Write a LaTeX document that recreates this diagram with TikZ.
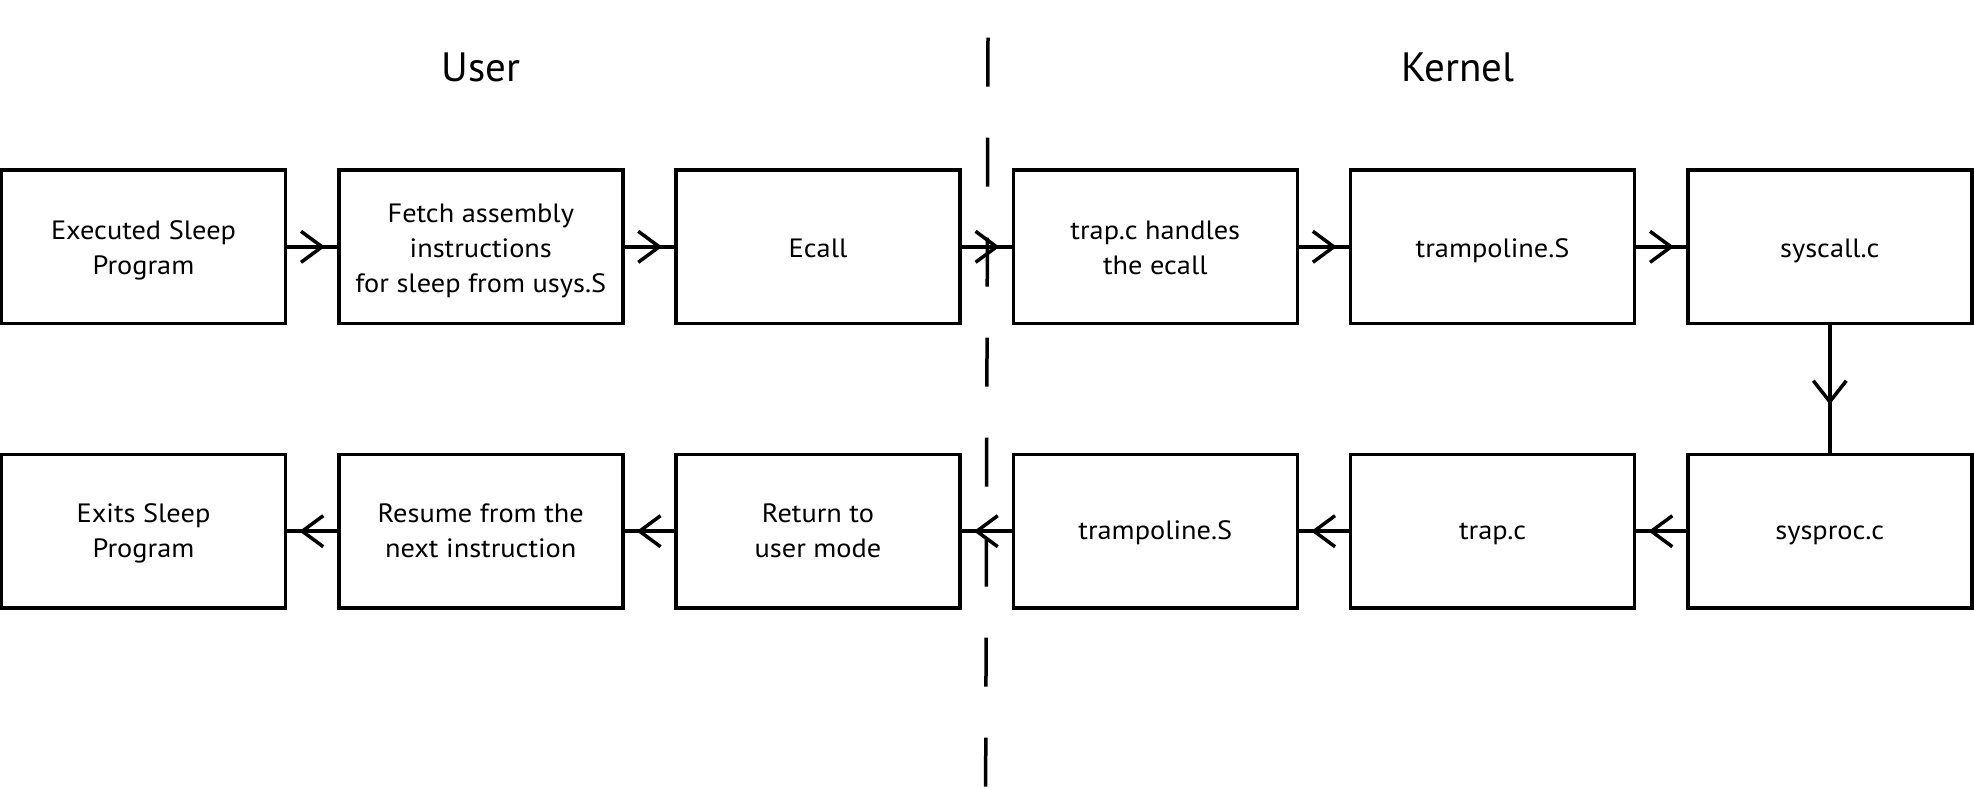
\documentclass[tikz,border=0pt]{standalone}
\usepackage{fontspec}
\setmainfont{PT Sans}
\newfontfamily\boxfont[FakeStretch=1.07]{PT Sans}
\usetikzlibrary{decorations.markings}
\newcommand\bs{\rule[-6pt]{0pt}{32.5pt}}
\newcommand\bt{\rule[-6pt]{0pt}{29pt}}
\begin{document}
\begin{tikzpicture}[x=1pt,y=-1pt,
  stepbox/.style={draw,line width=3.5pt,minimum width=284pt,minimum height=153.5pt,inner sep=0pt,align=center,font=\boxfont\fontsize{26.5}{35}\selectfont},
  title/.style={font=\fontsize{41}{48}\selectfont,inner sep=0pt},
  flow/.style={line width=3.5pt,postaction={decorate},decoration={markings,
     mark=at position -15pt with {\draw[line width=3.5pt] (-21pt,15.5pt)--(0,0)--(-21pt,-15.5pt);}}},
  flowv/.style={line width=3.5pt,postaction={decorate},decoration={markings,
     mark=at position -51pt with {\draw[line width=3.5pt] (-21pt,16.5pt)--(0,0)--(-21pt,-16.5pt);}}}
]
\useasboundingbox (0,0) rectangle (1974,788);
\draw[line width=3.5pt,dash pattern=on 49pt off 51pt] (988,37.7) -- (985.6,800);
\node[title,anchor=base] (user) at (481,81.7) {User};
\node[title,anchor=base] (kernel) at (1458,81.7) {Kernel};
% top row
\node[stepbox] (a1) at (143.5,246.8) {\bs Executed Sleep\\\bs Program};
\node[stepbox] (a2) at (480.8,246.8) {\bs Fetch assembly\\\bs instructions\\\bs for sleep from usys.S};
\node[stepbox] (a3) at (818,246.8) {\bs Ecall};
\node[stepbox] (a4) at (1155.3,246.8) {\bs trap.c handles\\\bs the ecall};
\node[stepbox] (a5) at (1492.6,246.8) {\bs trampoline.S};
\node[stepbox] (a6) at (1829.8,246.8) {\bs syscall.c};
% bottom row
\node[stepbox] (b1) at (143.5,531.2) {\bt Exits Sleep\\\bt Program};
\node[stepbox] (b2) at (480.8,531.2) {\bt Resume from the\\\bt next instruction};
\node[stepbox] (b3) at (818,531.2) {\bt Return to\\\bt user mode};
\node[stepbox] (b4) at (1155.3,531.2) {\bt trampoline.S};
\node[stepbox] (b5) at (1492.6,531.2) {\bt trap.c};
\node[stepbox] (b6) at (1829.8,531.2) {\bt sysproc.c};
% connectors
\draw[flow] (a1.east) -- (a2.west);
\draw[flow] (a2.east) -- (a3.west);
\draw[flow] (a3.east) -- (a4.west);
\draw[flow] (a4.east) -- (a5.west);
\draw[flow] (a5.east) -- (a6.west);
\draw[flowv] (a6.south) -- (b6.north);
\draw[flow] (b6.west) -- (b5.east);
\draw[flow] (b5.west) -- (b4.east);
\draw[flow] (b4.west) -- (b3.east);
\draw[flow] (b3.west) -- (b2.east);
\draw[flow] (b2.west) -- (b1.east);
\end{tikzpicture}
\end{document}
